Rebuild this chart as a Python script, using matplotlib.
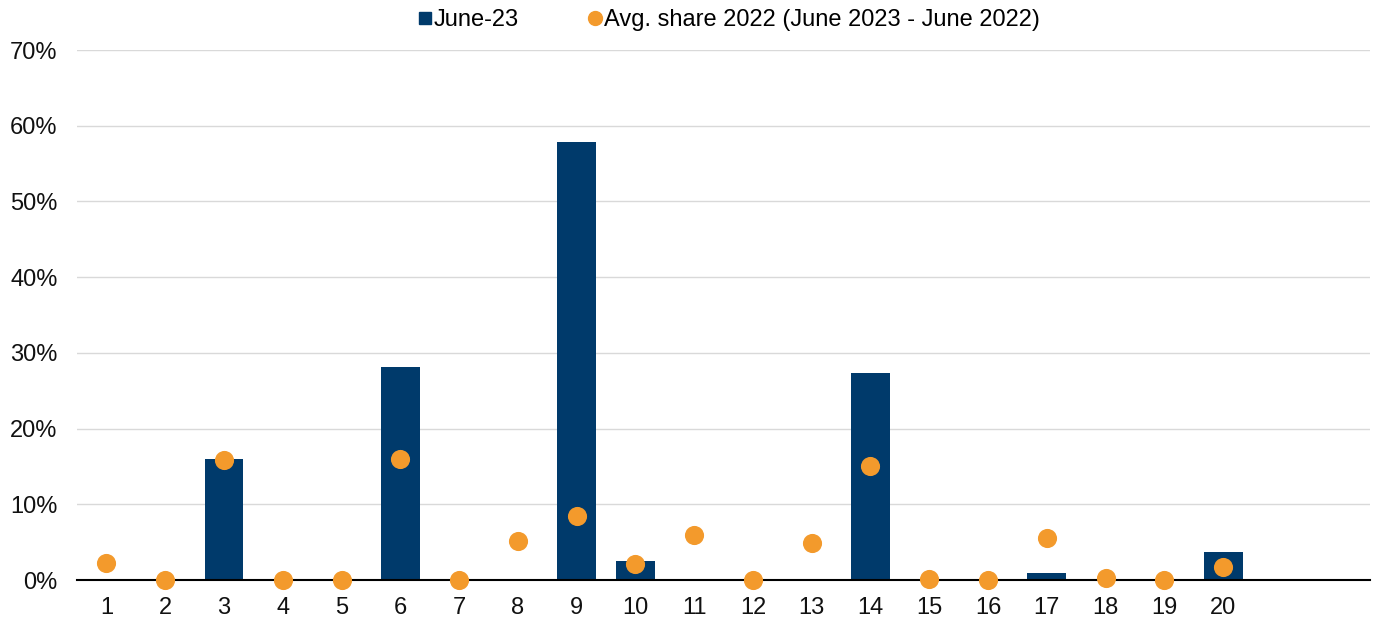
import matplotlib
matplotlib.use("Agg")
import matplotlib.pyplot as plt
from matplotlib.lines import Line2D
import numpy as np

plt.rcParams['font.family'] = ['Liberation Sans', 'DejaVu Sans']

categories = [str(i) for i in range(1, 21)] + ["", ""]
june23 = [0, 0, 16.0, 0, 0, 28.2, 0, 0, 57.8, 2.5, 0, 0, 0, 27.3, 0, 0, 0.9, 0, 0, 3.7, None, None]
avg_share = [2.2, 0, 15.9, 0, 0, 16.0, 0, 5.1, 8.4, 2.1, 5.9, 0, 4.9, 15.0, 0.1, 0, 5.5, 0.3, 0, 1.7, None, None]

navy = "#003A6B"
orange = "#F39A2C"

fig = plt.figure(figsize=(13.86, 6.2), dpi=100)
ax = fig.add_axes([0.0556, 0.0645, 0.9329, 0.8548])

x = np.arange(len(categories))
bar_vals = [v if v is not None else 0 for v in june23]
ax.bar(x, bar_vals, width=0.66, color=navy, zorder=2)
idx = [i for i, v in enumerate(avg_share) if v is not None]
ax.scatter([x[i] for i in idx], [avg_share[i] for i in idx], s=190, color=orange,
           zorder=4, linewidths=0, clip_on=False)

ax.set_xlim(-0.5, len(categories) - 0.5)
ax.set_ylim(0, 70)
ax.set_yticks(np.arange(0, 71, 10))
ax.set_yticklabels([f"{v}%" for v in range(0, 71, 10)])
ax.set_xticks(x)
ax.set_xticklabels(categories)
ax.tick_params(axis='both', length=0, labelsize=17, colors="#111111")
ax.tick_params(axis='y', pad=14)
ax.tick_params(axis='x', pad=12)
ax.grid(axis='y', color="#D9D9D9", linewidth=1, zorder=0)
ax.set_axisbelow(True)
for s in ['top', 'right', 'left']:
    ax.spines[s].set_visible(False)
ax.spines['bottom'].set_color("black")
ax.spines['bottom'].set_linewidth(1.5)
ax.spines['bottom'].set_zorder(3)

handles = [
    Line2D([], [], marker='s', linestyle='none', color=navy, markersize=9),
    Line2D([], [], marker='o', linestyle='none', color=orange, markersize=10),
]
fig.legend(handles, ["June-23", "Avg. share 2022 (June 2023 - June 2022)"],
           loc='center', bbox_to_anchor=(0.525, 0.967), ncol=2, frameon=False,
           fontsize=17, handletextpad=0.0, columnspacing=2.8, handlelength=0.8)

fig.savefig("out.png", dpi=100)
